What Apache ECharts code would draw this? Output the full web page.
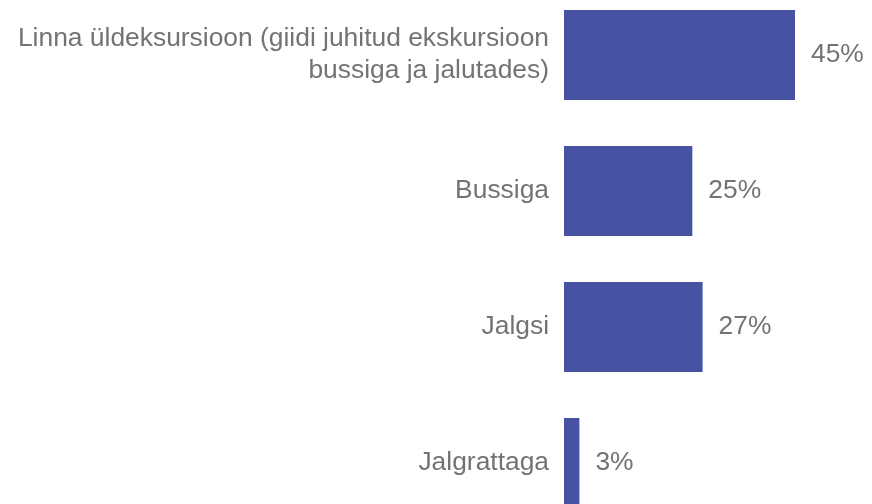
<!DOCTYPE html>
<html>
<head>
<meta charset="utf-8">
<script src="https://cdn.jsdelivr.net/npm/echarts@6/dist/echarts.min.js"></script>
<style>html,body{margin:0;padding:0;background:#fff;overflow:hidden;width:872px;height:504px;}#c{position:absolute;left:0;top:-13px;width:872px;height:544px;}</style>
</head>
<body>
<div id="c"></div>
<script>
const categories = [
  "Linna üldeksursioon (giidi juhitud ekskursioon\nbussiga ja jalutades)",
  "Bussiga",
  "Jalgsi",
  "Jalgrattaga"
];
const values = [45, 25, 27, 3];

const chart = echarts.init(document.getElementById('c'));
const font = '"Liberation Sans", Arial, sans-serif';
chart.setOption({
  animation: false,
  grid: { left: 564, top: 0, width: 309, height: 544, containLabel: false },
  xAxis: { type: 'value', min: 0, max: 60, show: false },
  yAxis: {
    type: 'category', data: categories, inverse: true,
    axisLine: { show: false }, axisTick: { show: false }, splitLine: { show: false },
    axisLabel: { color: '#737373', fontSize: 26.4, fontFamily: font, lineHeight: 32, margin: 15, align: 'right' }
  },
  series: [{
    type: 'bar', data: values, barCategoryGap: '34%',
    itemStyle: { color: '#4653A3' },
    label: { show: true, position: 'right', distance: 16, formatter: '{c}%', color: '#737373', fontSize: 26.4, fontFamily: font }
  }]
});
</script>
</body>
</html>
